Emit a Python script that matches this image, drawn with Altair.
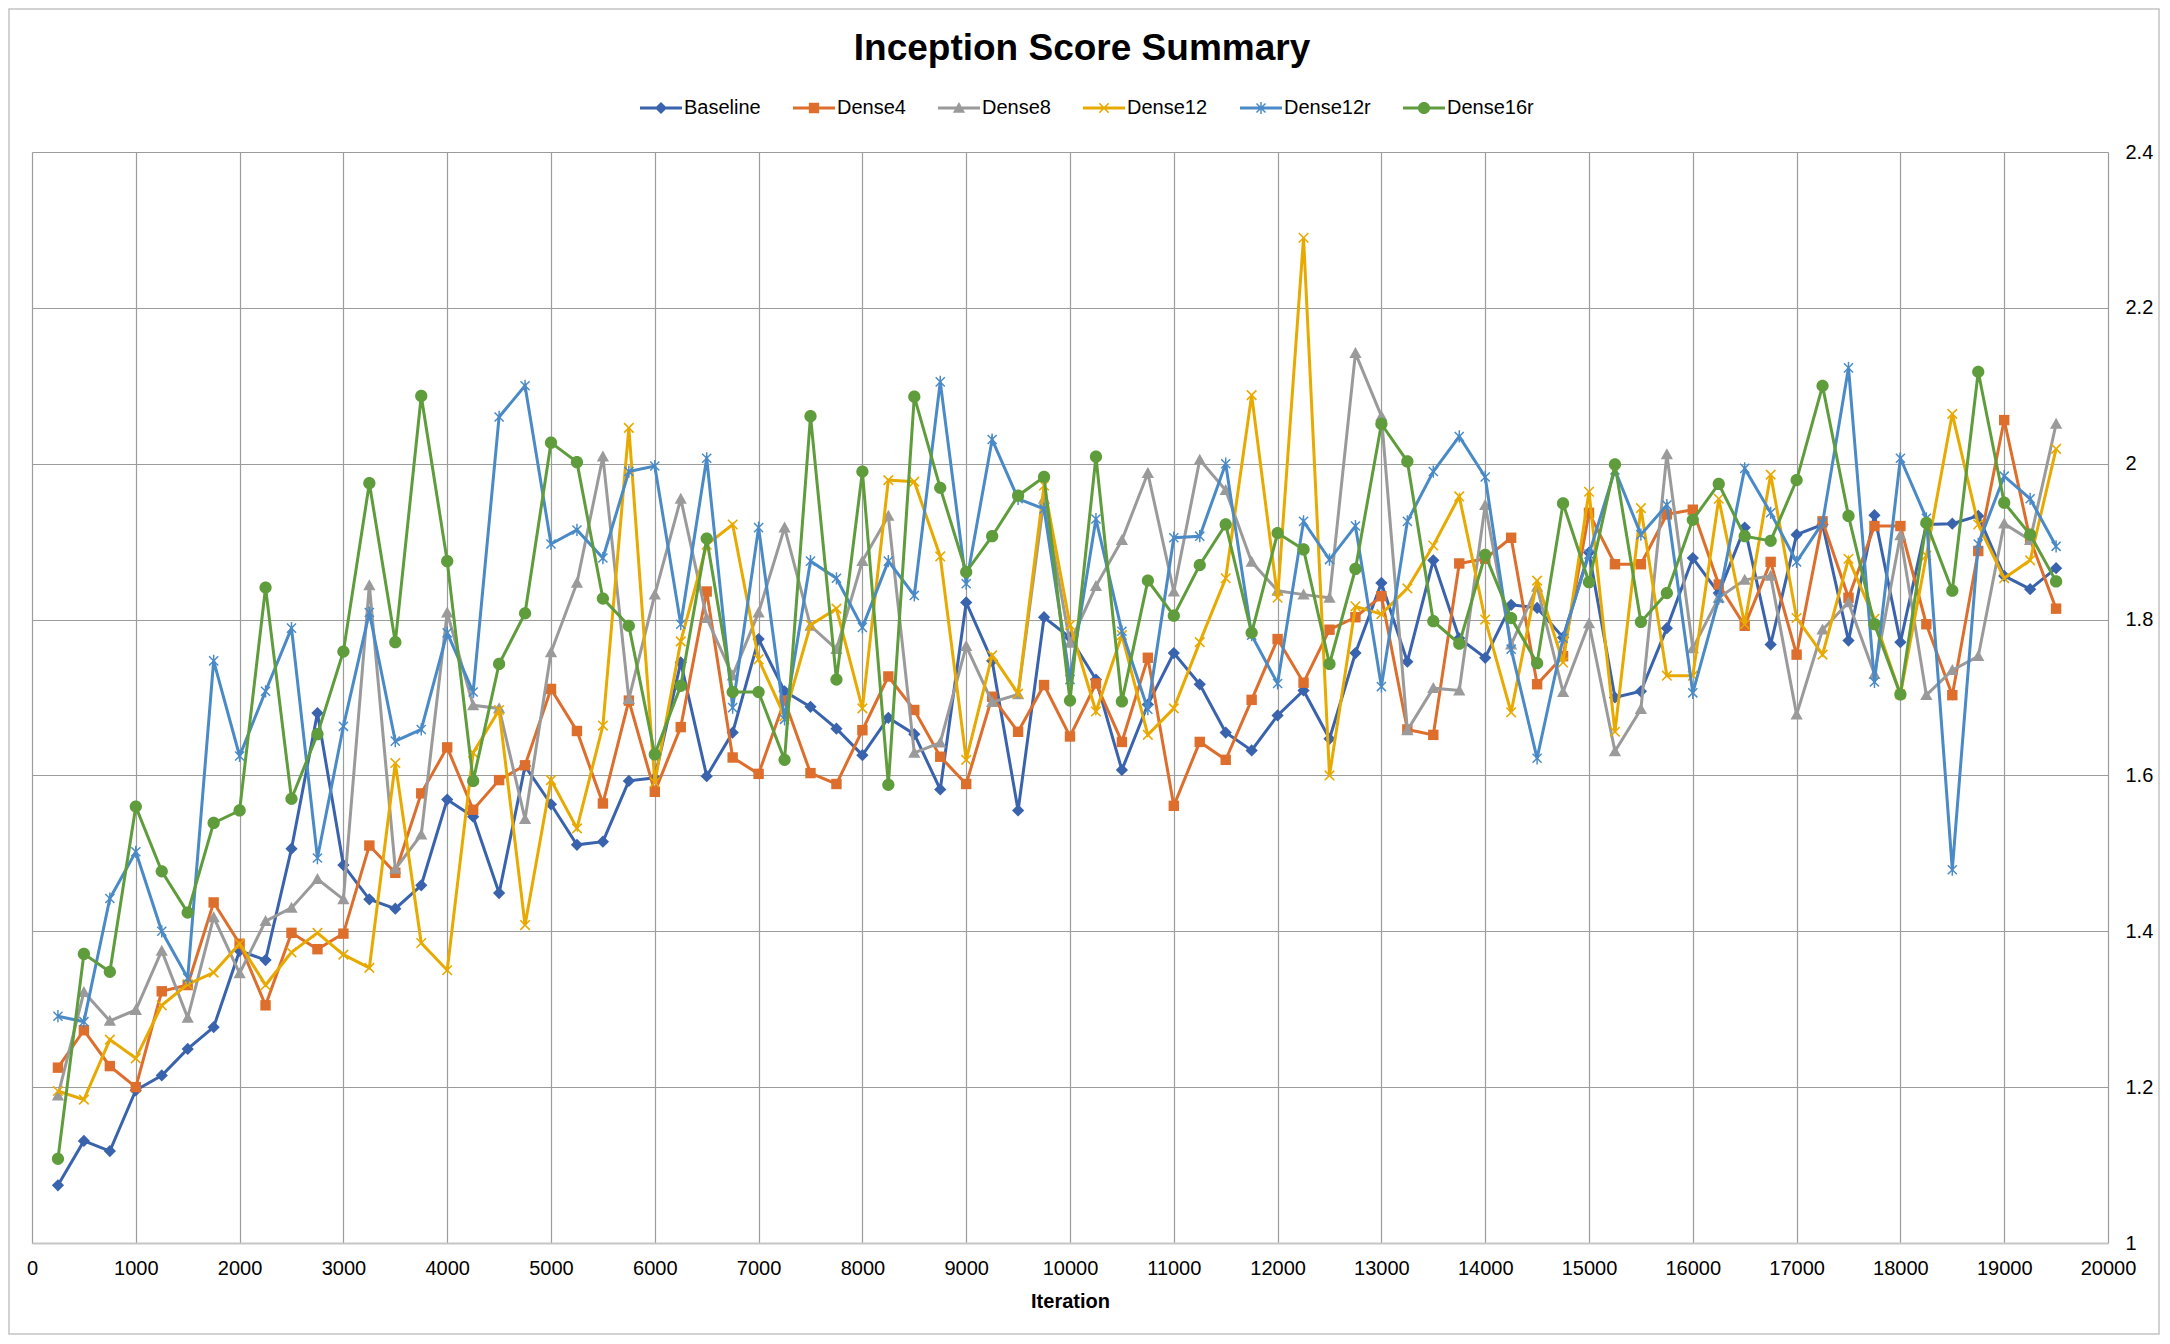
import math
import altair as alt
import pandas as pd

iterations = [250, 500, 750, 1000, 1250, 1500, 1750, 2000, 2250, 2500,
              2750, 3000, 3250, 3500, 3750, 4000, 4250, 4500, 4750, 5000,
              5250, 5500, 5750, 6000, 6250, 6500, 6750, 7000, 7250, 7500,
              7750, 8000, 8250, 8500, 8750, 9000, 9250, 9500, 9750, 10000,
              10250, 10500, 10750, 11000, 11250, 11500, 11750, 12000, 12250, 12500,
              12750, 13000, 13250, 13500, 13750, 14000, 14250, 14500, 14750, 15000,
              15250, 15500, 15750, 16000, 16250, 16500, 16750, 17000, 17250, 17500,
              17750, 18000, 18250, 18500, 18750, 19000, 19250, 19500]

baseline = [
    1.074, 1.131, 1.118, 1.196, 1.215, 1.249, 1.277, 1.375, 1.363, 1.506,
    1.680, 1.485, 1.441, 1.429, 1.459, 1.569, 1.547, 1.449, 1.612, 1.563,
    1.511, 1.515, 1.593, 1.597, 1.745, 1.599, 1.655, 1.775, 1.708, 1.688,
    1.660, 1.626, 1.674, 1.653, 1.582, 1.822, 1.747, 1.555, 1.803, 1.777,
    1.723, 1.607, 1.691, 1.757, 1.717, 1.655, 1.632, 1.677, 1.709, 1.647,
    1.757, 1.847, 1.746, 1.876, 1.776, 1.751, 1.819, 1.815, 1.777, 1.886,
    1.700, 1.708, 1.789, 1.879, 1.834, 1.918, 1.768, 1.909, 1.922, 1.773,
    1.934, 1.771, 1.922, 1.923, 1.933, 1.856, 1.839, 1.866]

dense4 = [
    1.225, 1.273, 1.227, 1.200, 1.323, 1.331, 1.437, 1.384, 1.305, 1.398,
    1.377, 1.397, 1.510, 1.475, 1.577, 1.636, 1.556, 1.594, 1.613, 1.711,
    1.657, 1.564, 1.696, 1.579, 1.662, 1.836, 1.623, 1.602, 1.696, 1.603,
    1.589, 1.658, 1.727, 1.684, 1.624, 1.589, 1.701, 1.656, 1.716, 1.650,
    1.718, 1.643, 1.751, 1.561, 1.643, 1.620, 1.697, 1.775, 1.719, 1.787,
    1.803, 1.830, 1.659, 1.652, 1.872, 1.878, 1.905, 1.717, 1.753, 1.937,
    1.871, 1.871, 1.935, 1.941, 1.845, 1.792, 1.874, 1.755, 1.926, 1.828,
    1.920, 1.920, 1.794, 1.703, 1.888, 2.056, 1.903, 1.814]

dense8 = [
    1.189, 1.322, 1.285, 1.299, 1.375, 1.289, 1.418, 1.346, 1.413, 1.430,
    1.467, 1.441, 1.844, 1.480, 1.524, 1.809, 1.690, 1.686, 1.544, 1.758,
    1.847, 2.009, 1.698, 1.832, 1.955, 1.802, 1.728, 1.809, 1.918, 1.792,
    1.762, 1.875, 1.933, 1.629, 1.642, 1.766, 1.694, 1.704, 1.955, 1.770,
    1.843, 1.902, 1.988, 1.836, 2.005, 1.966, 1.874, 1.837, 1.832, 1.828,
    2.142, 2.061, 1.658, 1.712, 1.709, 1.947, 1.768, 1.842, 1.707, 1.795,
    1.631, 1.685, 2.012, 1.763, 1.828, 1.851, 1.856, 1.678, 1.787, 1.822,
    1.730, 1.908, 1.703, 1.735, 1.753, 1.923, 1.902, 2.051]

dense12 = [
    1.195, 1.184, 1.261, 1.237, 1.305, 1.332, 1.347, 1.384, 1.331, 1.373,
    1.398, 1.370, 1.353, 1.616, 1.385, 1.350, 1.629, 1.684, 1.408, 1.594,
    1.532, 1.664, 2.046, 1.591, 1.772, 1.896, 1.922, 1.749, 1.676, 1.793,
    1.814, 1.686, 1.979, 1.977, 1.881, 1.620, 1.754, 1.705, 1.972, 1.793,
    1.682, 1.780, 1.652, 1.686, 1.771, 1.853, 2.088, 1.828, 2.290, 1.600,
    1.817, 1.807, 1.840, 1.895, 1.958, 1.800, 1.681, 1.850, 1.745, 1.964,
    1.656, 1.943, 1.728, 1.728, 1.955, 1.794, 1.986, 1.802, 1.755, 1.878,
    1.801, 1.704, 1.882, 2.064, 1.922, 1.853, 1.876, 2.019]

dense12r = [
    1.291, 1.284, 1.442, 1.502, 1.400, 1.340, 1.747, 1.625, 1.708, 1.789,
    1.494, 1.663, 1.809, 1.644, 1.659, 1.783, 1.707, 2.060, 2.100, 1.897,
    1.915, 1.879, 1.990, 1.997, 1.794, 2.007, 1.687, 1.918, 1.672, 1.875,
    1.853, 1.790, 1.875, 1.831, 2.105, 1.846, 2.031, 1.955, 1.942, 1.723,
    1.929, 1.785, 1.685, 1.905, 1.907, 2.000, 1.780, 1.718, 1.926, 1.877,
    1.920, 1.714, 1.926, 1.990, 2.035, 1.983, 1.762, 1.622, 1.776, 1.884,
    1.992, 1.909, 1.947, 1.706, 1.827, 1.994, 1.937, 1.874, 1.924, 2.123,
    1.720, 2.007, 1.930, 1.479, 1.897, 1.984, 1.955, 1.894]

dense16r = [
    1.108, 1.371, 1.348, 1.560, 1.477, 1.424, 1.539, 1.555, 1.841, 1.570,
    1.653, 1.759, 1.975, 1.771, 2.087, 1.875, 1.593, 1.743, 1.808, 2.027,
    2.002, 1.827, 1.792, 1.627, 1.715, 1.904, 1.707, 1.707, 1.620, 2.061,
    1.723, 1.990, 1.588, 2.086, 1.969, 1.861, 1.907, 1.959, 1.983, 1.696,
    2.009, 1.695, 1.850, 1.805, 1.870, 1.922, 1.783, 1.911, 1.890, 1.743,
    1.865, 2.051, 2.003, 1.798, 1.769, 1.883, 1.802, 1.744, 1.949, 1.848,
    1.999, 1.797, 1.834, 1.928, 1.974, 1.907, 1.901, 1.979, 2.100, 1.933,
    1.794, 1.704, 1.924, 1.837, 2.118, 1.950, 1.909, 1.849]

series_names = ["Baseline", "Dense4", "Dense8", "Dense12", "Dense12r", "Dense16r"]
series_values = [baseline, dense4, dense8, dense12, dense12r, dense16r]
series_colors = ["#3A63AE", "#DD6E2C", "#9A9A9A", "#E8AA00", "#4A8AC6", "#5F9C3C"]

x_ticks = [0, 1000, 2000, 3000, 4000, 5000, 6000, 7000, 8000, 9000, 10000,
           11000, 12000, 13000, 14000, 15000, 16000, 17000, 18000, 19000, 20000]
y_ticks = [1.0, 1.2, 1.4, 1.6, 1.8, 2.0, 2.2, 2.4]

rows = []
for name, vals in zip(series_names, series_values):
    for it, v in zip(iterations, vals):
        rows.append({"Iteration": it, "Score": v, "Series": name})
df = pd.DataFrame(rows)


# ---- marker shapes (unit box [-1, 1]) ----
def poly(pts, k=1.0):
    return "M" + "L".join(f"{x * k:.3f},{y * k:.3f}" for x, y in pts) + "Z"


def bar(angle_deg, length, w):
    a = math.radians(angle_deg)
    dx, dy = math.cos(a), math.sin(a)
    nx, ny = -dy, dx
    p1 = (-length * dx, -length * dy)
    p2 = (length * dx, length * dy)
    return [(p1[0] - w * nx, p1[1] - w * ny), (p2[0] - w * nx, p2[1] - w * ny),
            (p2[0] + w * nx, p2[1] + w * ny), (p1[0] + w * nx, p1[1] + w * ny)]


def circle(r):
    return (f"M{r:.3f},0A{r:.3f},{r:.3f},0,1,1,{-r:.3f},0"
            f"A{r:.3f},{r:.3f},0,1,1,{r:.3f},0Z")


marker_polys = {
    "Baseline": [[(0, -1), (1, 0), (0, 1), (-1, 0)]],
    "Dense4": [[(-0.85, -0.85), (0.85, -0.85), (0.85, 0.85), (-0.85, 0.85)]],
    "Dense8": [[(0, -1), (1, 0.8), (-1, 0.8)]],
    "Dense12": [bar(45, 1.1, 0.13), bar(135, 1.1, 0.13)],
    "Dense12r": [bar(45, 1.05, 0.12), bar(135, 1.05, 0.12), bar(90, 1.0, 0.12)],
}


def marker_path(name, k=1.0):
    if name == "Dense16r":
        return circle(1.0 * k)
    return "".join(poly(p, k) for p in marker_polys[name])


line_seg = poly([(-1, -0.075), (1, -0.075), (1, 0.075), (-1, 0.075)])
legend_paths = [line_seg + marker_path(n, 0.29) for n in series_names]

x_scale = alt.Scale(domain=[0, 20000], nice=False, zero=False)
y_scale = alt.Scale(domain=[1, 2.4], nice=False, zero=False)

x_axis = alt.Axis(values=x_ticks, format="d", title="Iteration",
                  labelFontSize=20, labelPadding=15, labelFlush=False,
                  labelOverlap=False, titleFontSize=20, titleFontWeight="bold",
                  titlePadding=13, tickSize=0, domainColor="#c6c6c6",
                  domainWidth=2, gridColor="#9c9c9c", gridWidth=1.2)
y_axis = alt.Axis(values=y_ticks, format="~g", orient="right", title=None,
                  labelFontSize=20, labelPadding=17, labelOverlap=False,
                  tickSize=0, domain=False, gridColor="#9c9c9c", gridWidth=1.2)


def enc_x():
    return alt.X("Iteration:Q", scale=x_scale, axis=x_axis)


def enc_y():
    return alt.Y("Score:Q", scale=y_scale, axis=y_axis)


layers = []

# outer chart frame (decoration)
frame = alt.Chart(pd.DataFrame({"frame": [0]})).mark_rect(
    fillOpacity=0, stroke="#c4c4c4", strokeWidth=1.5
).encode(x=alt.value(-23), x2=alt.value(2127), y=alt.value(-143), y2=alt.value(1182))
layers.append(frame)

for name, color in zip(series_names, series_colors):
    base = alt.Chart(df).transform_filter(alt.datum.Series == name)
    layers.append(base.mark_line(color=color, strokeWidth=3).encode(x=enc_x(), y=enc_y()))
    layers.append(base.mark_point(filled=True, opacity=1, size=150, strokeWidth=0,
                                  shape=marker_path(name), color=color)
                  .encode(x=enc_x(), y=enc_y()))

leg = alt.Legend(title=None, orient="none", legendX=608, legendY=-65,
                 direction="horizontal", symbolSize=1764, symbolStrokeWidth=0,
                 labelFont="Liberation Sans", labelFontSize=20, labelColor="black",
                 labelOffset=2, columnPadding=32, padding=0, rowPadding=0,
                 labelLimit=300)

legend_layer = alt.Chart(df).transform_filter(alt.datum.Iteration == 250).transform_calculate(
    Hidden="0"
).mark_point(filled=True, opacity=1, size=144, clip=True, strokeWidth=0).encode(
    x=enc_x(),
    y=alt.Y("Hidden:Q", scale=y_scale, axis=y_axis),
    color=alt.Color("Series:N", scale=alt.Scale(domain=series_names, range=series_colors), legend=leg),
    shape=alt.Shape("Series:N", scale=alt.Scale(domain=series_names, range=legend_paths), legend=leg),
)
layers.append(legend_layer)

chart = alt.layer(*layers).properties(
    width=2076,
    height=1091,
    padding={"left": 24, "top": 144, "right": 52, "bottom": 92},
    autosize=alt.AutoSizeParams(type="none"),
    background="white",
    title=alt.Title(text="Inception Score Summary", font="Liberation Sans",
                    fontSize=37, fontWeight="bold", color="black",
                    anchor="middle", frame="group", baseline="alphabetic",
                    offset=0, dx=12, dy=89),
).configure_axis(
    labelFont="Liberation Sans", titleFont="Liberation Sans",
    labelColor="black", titleColor="black",
).configure_view(strokeWidth=0)

chart.save("out.html", embed_options={"renderer": "svg", "actions": False})
